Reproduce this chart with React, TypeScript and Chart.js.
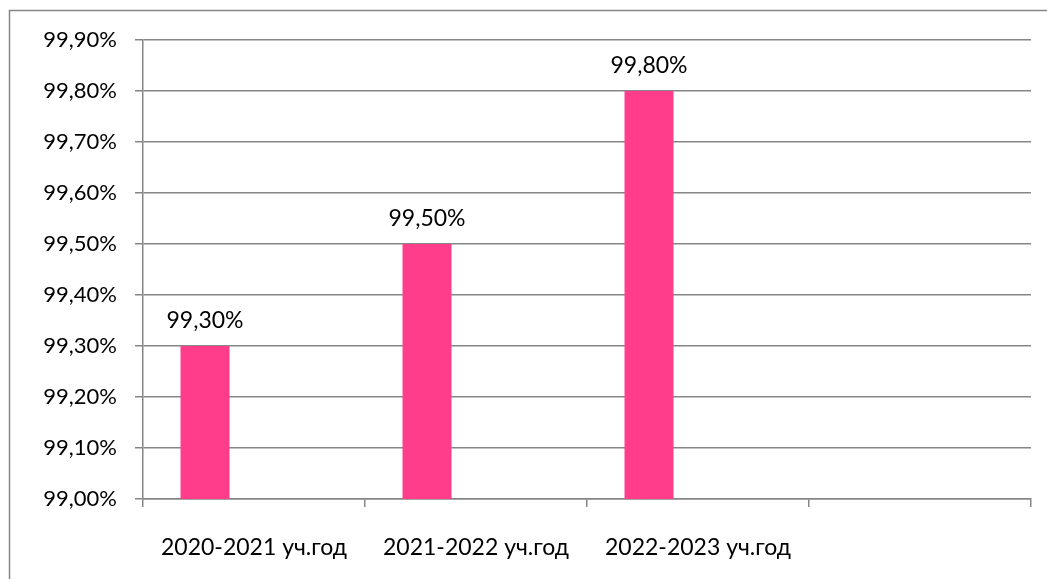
import React, { useEffect, useRef } from "react";
import { Chart, registerables } from "chart.js";

Chart.register(...registerables);

const categories = ["2020-2021 уч.год", "2021-2022 уч.год", "2022-2023 уч.год", ""];
const series1 = [99.3, 99.5, 99.8, null];
const series2: (number | null)[] = [null, null, null, null];
const series3: (number | null)[] = [null, null, null, null];
const yMin = 99.0;
const yMax = 99.9;
const yStep = 0.1;

const FONT = "Lato";
const GRID = "#868686";
const BAR = "#FF3D8B";

const fmt = (v: number) => v.toFixed(2).replace(".", ",") + "%";

const borderPlugin = {
  id: "outerBorder",
  beforeDraw(chart: any) {
    const ctx = chart.ctx;
    ctx.save();
    ctx.strokeStyle = GRID;
    ctx.lineWidth = 1.5;
    ctx.beginPath();
    ctx.moveTo(9.5, chart.height);
    ctx.lineTo(9.5, 10.5);
    ctx.lineTo(chart.width, 10.5);
    ctx.stroke();
    ctx.restore();
  },
};

const labelPlugin = {
  id: "barLabels",
  afterDatasetsDraw(chart: any) {
    const ctx = chart.ctx;
    const meta = chart.getDatasetMeta(0);
    const data = chart.data.datasets[0].data;
    ctx.save();
    ctx.font = `23px ${FONT}`;
    ctx.fillStyle = "#000";
    ctx.textAlign = "center";
    ctx.textBaseline = "alphabetic";
    meta.data.forEach((bar: any, i: number) => {
      const v = data[i];
      if (v === null || v === undefined) return;
      ctx.fillText(fmt(v), bar.x, bar.y - 18);
    });
    ctx.restore();
  },
};

export default function App() {
  const ref = useRef<HTMLCanvasElement>(null);
  useEffect(() => {
    if (!ref.current) return;
    const chart = new Chart(ref.current, {
      type: "bar",
      data: {
        labels: categories,
        datasets: [
          { label: "Ряд1", data: series1, backgroundColor: BAR, borderWidth: 0 },
          { label: "Ряд2", data: series2, backgroundColor: BAR, borderWidth: 0 },
          { label: "Ряд3", data: series3, backgroundColor: BAR, borderWidth: 0 },
        ],
      },
      options: {
        responsive: false,
        animation: false,
        devicePixelRatio: 1,
        layout: { padding: { left: 0, top: 40, right: 16, bottom: 0 } },
        plugins: { legend: { display: false }, tooltip: { enabled: false } },
        datasets: { bar: { categoryPercentage: 0.662, barPercentage: 1 } },
        scales: {
          x: {
            afterFit: (s: any) => {
              s.height = 80;
            },
            grid: {
              display: true,
              drawOnChartArea: false,
              drawTicks: true,
              tickLength: 8,
              offset: true,
              color: GRID,
              lineWidth: 1.5,
            },
            border: { display: true, color: GRID, width: 1.5 },
            ticks: {
              font: { family: FONT, size: 23 },
              color: "#000",
              padding: 27,
              maxRotation: 0,
              autoSkip: false,
            },
          },
          y: {
            min: yMin,
            max: yMax,
            afterFit: (s: any) => {
              s.width = 143;
            },
            grid: { color: GRID, lineWidth: 1.5, drawTicks: true, tickLength: 8 },
            border: { display: true, color: GRID, width: 1.5 },
            ticks: {
              stepSize: yStep,
              font: { family: FONT, size: 22 },
              color: "#000",
              padding: 18,
              callback: (v: any) => fmt(Number(v)),
            },
          },
        },
      },
      plugins: [borderPlugin, labelPlugin],
    });
    return () => chart.destroy();
  }, []);
  return (
    <div style={{ position: "fixed", left: 0, top: 0, width: 1047, height: 579, background: "#fff" }}>
      <canvas ref={ref} width={1047} height={579} style={{ width: 1047, height: 579, display: "block" }} />
    </div>
  );
}
